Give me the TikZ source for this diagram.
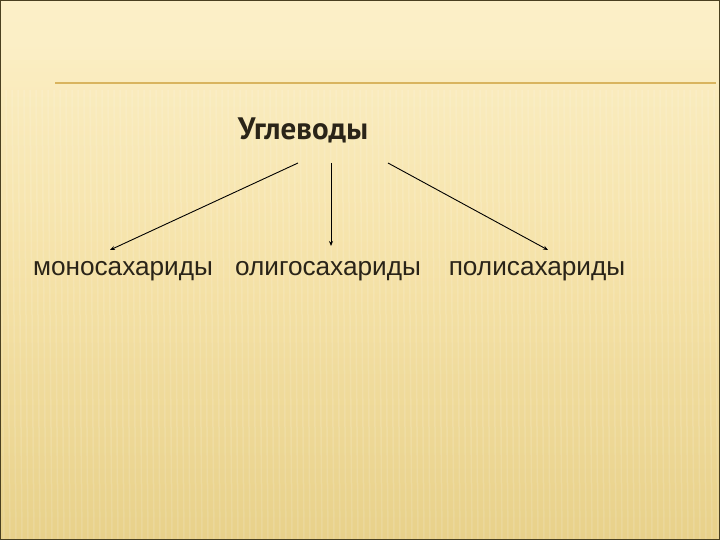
\documentclass[tikz,border=0pt]{standalone}
\usepackage{fontspec}
\setmainfont{Liberation Sans}
\newfontfamily\titlefont{PT Sans}
\usetikzlibrary{arrows.meta}
\definecolor{bgtop}{HTML}{FCF0C8}
\definecolor{bgmid}{HTML}{F5E2A8}
\definecolor{bgbot}{HTML}{E8D18A}
\definecolor{rulecol}{HTML}{D9B45E}
\definecolor{framecol}{HTML}{4A4020}
\definecolor{inkcol}{HTML}{2A2418}
\tikzset{
  conn/.style={draw=black, line width=0.9pt, -{Stealth[length=5pt,width=4pt]}},
  lbl/.style={font=\fontsize{26.2}{30}\selectfont, text=inkcol, inner sep=0pt, anchor=base},
}
\begin{document}
\begin{tikzpicture}[x=1pt,y=-1pt]
\useasboundingbox (0,0) rectangle (720,540);
% background
\shade[top color=bgtop, bottom color=bgbot, middle color=bgmid] (0,0) rectangle (720,540);
% subtle stripes
\foreach \i in {0,6,...,720} {
  \draw[white, opacity=0.13, line width=1.5pt] (\i,90) -- (\i+4,540);
}
\fill[bgtop, opacity=0.6] (0,0) rectangle (720,60);
% frame
\draw[framecol, line width=2pt] (0,0) rectangle (720,540);
% rule
\draw[rulecol, line width=1.5pt] (55,83) -- (716,83);
% title
\node[inner sep=0pt, anchor=base, font=\titlefont\bfseries\fontsize{31}{36}\selectfont, text=inkcol] (t) at (303,140) {Углеводы};
% labels
\node[lbl] (m) at (123,275) {моносахариды};
\node[lbl] (o) at (328,275) {олигосахариды};
\node[lbl] (p) at (537,275) {полисахариды};
% anchors
\coordinate (a1) at (298,163);
\coordinate (a2) at (331,163);
\coordinate (a3) at (388,163);
\coordinate (b1) at (110,250);
\coordinate (b2) at (331,246);
\coordinate (b3) at (548,250);
\draw[conn] (a1) -- (b1);
\draw[conn] (a2) -- (b2);
\draw[conn] (a3) -- (b3);
\end{tikzpicture}
\end{document}
